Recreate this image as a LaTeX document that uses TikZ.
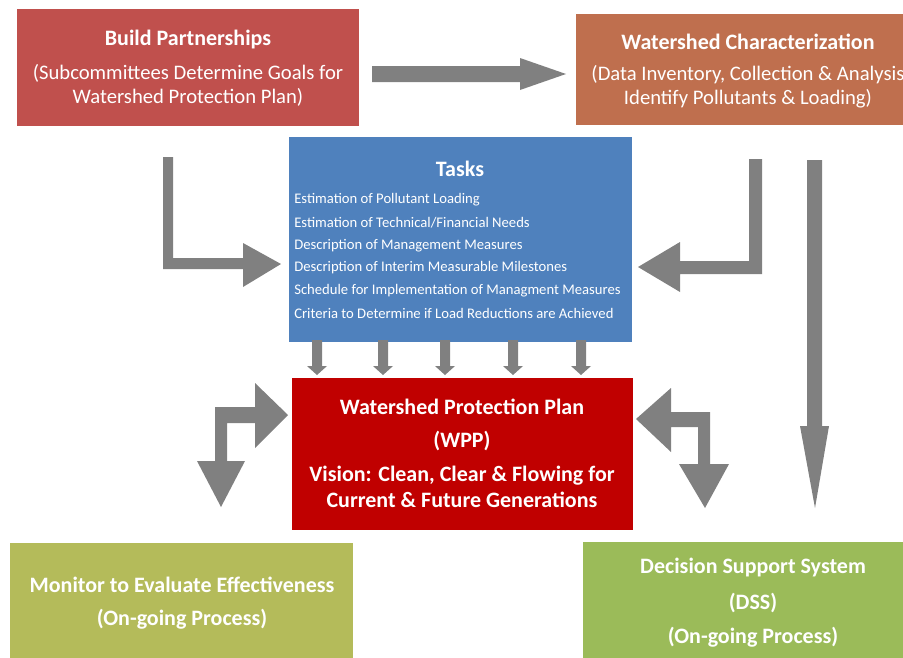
\documentclass[tikz,border=0pt]{standalone}
\usepackage{fontspec}
\setmainfont{Carlito}
\definecolor{bpred}{HTML}{C0504D}
\definecolor{wcorange}{HTML}{BF6F4E}
\definecolor{taskblue}{HTML}{4F81BD}
\definecolor{wppred}{HTML}{C00000}
\definecolor{olive}{HTML}{B4BB5A}
\definecolor{dssgreen}{HTML}{9BBB59}
\definecolor{arrowgray}{HTML}{808080}
\tikzset{
  box/.style={rectangle, inner sep=0pt, draw=none, anchor=north west},
  ttl/.style={text=white, font=\fontsize{16.5}{18}\selectfont\bfseries, inner sep=0pt},
  sub/.style={text=white, font=\fontsize{15.5}{17}\selectfont, inner sep=0pt, align=center},
  tsk/.style={text=white, font=\fontsize{11}{12}\selectfont, inner sep=0pt, anchor=west},
  blk/.style={fill=arrowgray, draw=none}
}
\begin{document}
\begin{tikzpicture}[x=0.75pt,y=-0.75pt]
\useasboundingbox (0,0) rectangle (903,657);
\clip (0,0) rectangle (903,657);
% boxes
\node[box, fill=bpred, minimum width=256.5pt, minimum height=87.75pt] (bp) at (17,9) {};
\node[box, fill=wcorange, minimum width=258pt, minimum height=83.25pt] (wc) at (576,14) {};
\node[box, fill=taskblue, minimum width=257.25pt, minimum height=153.75pt] (tk) at (289,137) {};
\node[box, fill=wppred, minimum width=255.75pt, minimum height=114pt] (wpp) at (292,378) {};
\node[box, fill=olive, minimum width=257.25pt, minimum height=95pt] (mon) at (10,543) {};
\node[box, fill=dssgreen, minimum width=255pt, minimum height=95pt] (dss) at (583,542) {};
% texts
\node[ttl] (bpt) at (188,40) {Build Partnerships};
\node[sub] (bps) at (188,73) {(Subcommittees Determine Goals for};
\node[sub] (bps2) at (188,97) {Watershed Protection Plan)};
\node[ttl] (wct) at (748,42) {Watershed Characterization};
\node[sub] (wcs) at (748,75) {(Data Inventory, Collection \& Analysis};
\node[sub] (wcs2) at (748,99) {Identify Pollutants \& Loading)};
\node[ttl] (tkt) at (460,169) {Tasks};
\node[tsk] (t1) at (294,200) {Estimation of Pollutant Loading};
\node[tsk] (t2) at (294,222.5) {Estimation of Technical/Financial Needs};
\node[tsk] (t3) at (294,245.5) {Description of Management Measures};
\node[tsk] (t4) at (294,268) {Description of Interim Measurable Milestones};
\node[tsk] (t5) at (294,291) {Schedule for Implementation of Managment Measures};
\node[tsk] (t6) at (294,313.5) {Criteria to Determine if Load Reductions are Achieved};
\node[ttl] (w1) at (462,407) {Watershed Protection Plan};
\node[ttl] (w2) at (462,441) {(WPP)};
\node[ttl] (w3) at (462,476) {Vision: Clean, Clear \& Flowing for};
\node[ttl] (w4) at (462,500) {Current \& Future Generations};
\node[ttl] (m1) at (182,585) {Monitor to Evaluate Effectiveness};
\node[ttl] (m2) at (182,619) {(On-going Process)};
\node[ttl] (d1) at (753,568) {Decision Support System};
\node[ttl] (d2) at (753,603) {(DSS)};
\node[ttl] (d3) at (753,637) {(On-going Process)};
% block arrows
% top horizontal
\fill[blk] (372,66) -- (520,66) -- (520,58) -- (566,74) -- (520,90) -- (520,82) -- (372,82) -- cycle;
% left L arrow
\fill[blk] (163,157) -- (173,157) -- (173,258) -- (243,258) -- (243,243) -- (281,264) -- (243,287) -- (243,269) -- (163,269) -- cycle;
% right L arrow
\fill[blk] (749,159) -- (762,159) -- (762,274) -- (680,274) -- (680,292) -- (638,267) -- (680,242) -- (680,261) -- (749,261) -- cycle;
% long vertical arrow
\fill[blk] (807,160) -- (822,160) -- (822,426) -- (829,426) -- (815,508) -- (800,426) -- (807,426) -- cycle;
% small arrows
\foreach \cx in {317,383,445,513,581}{
  \fill[blk] (\cx-5,340) -- (\cx+5,340) -- (\cx+5,366) -- (\cx+10,366) -- (\cx,375) -- (\cx-10,366) -- (\cx-5,366) -- cycle;
}
% left bent double arrow
\fill[blk] (288,415) -- (255,383) -- (255,407) -- (215,407) -- (215,461) -- (197,461) -- (221,507) -- (245,461) -- (227,461) -- (227,423) -- (255,423) -- (255,448) -- cycle;
% right bent double arrow
\fill[blk] (636,419) -- (671,388) -- (671,412) -- (710,412) -- (710,464) -- (729,464) -- (705,508) -- (679,464) -- (698,464) -- (698,427) -- (671,427) -- (671,452) -- cycle;
\end{tikzpicture}
\end{document}
